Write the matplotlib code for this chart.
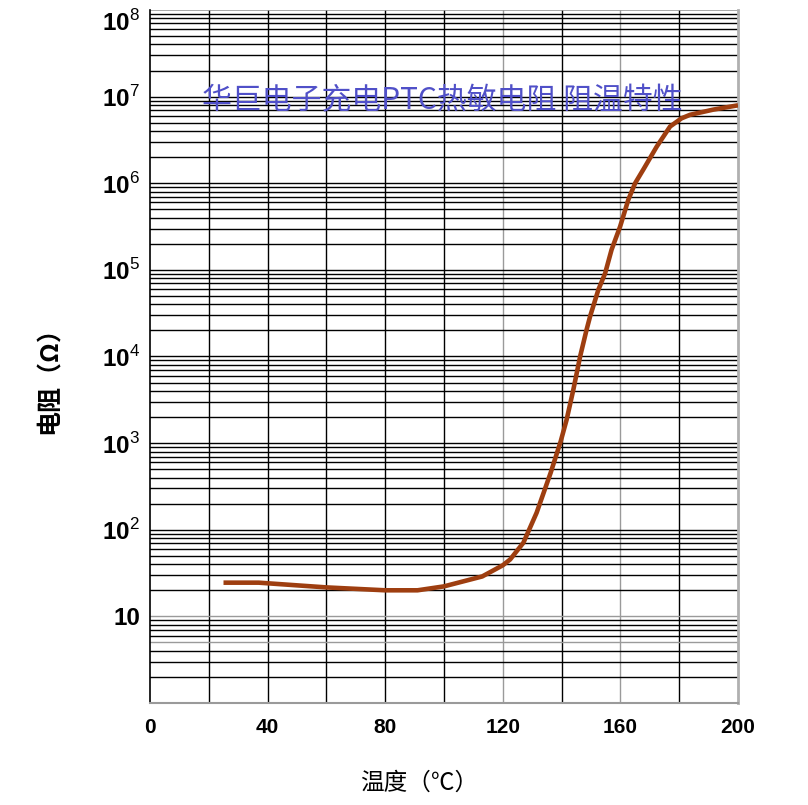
import matplotlib
matplotlib.use("Agg")
import matplotlib.pyplot as plt
from matplotlib.ticker import FixedLocator, FixedFormatter, NullFormatter

plt.rcParams['font.family'] = ['Liberation Sans', 'Noto Sans CJK SC', 'DejaVu Sans']
plt.rcParams['mathtext.fontset'] = 'custom'
plt.rcParams['mathtext.rm'] = 'Liberation Sans'
plt.rcParams['mathtext.bf'] = 'Liberation Sans:bold'

# Resistance-temperature curve of the PTC thermistor
temperature = [25, 37, 60, 80, 91, 100, 113, 120, 122.5, 127, 131.5, 136.3,
               139.7, 141.7, 144, 146.3, 148.5, 149.7, 152.5, 154.8, 157,
               159.9, 162.7, 165, 168, 172.3, 176.9, 180.8, 183.7, 191.6, 200]
resistance = [24.5, 24.5, 21.6, 20, 20, 22.2, 28.9, 38.9, 45.4, 70.8, 157, 457,
              1.05e3, 1.86e3, 4.15e3, 1.0e4, 2.04e4, 2.91e4, 5.89e4, 9.12e4,
              1.71e5, 3.16e5, 6.46e5, 1.0e6, 1.48e6, 2.63e6, 4.52e6, 5.62e6,
              6.17e6, 7.08e6, 7.94e6]

x_ticks = [0, 40, 80, 120, 160, 200]
y_ticks = [10, 1e2, 1e3, 1e4, 1e5, 1e6, 1e7, 1e8]
y_tick_labels = ['10', r'$\mathbf{10}^{2}$', r'$\mathbf{10}^{3}$', r'$\mathbf{10}^{4}$',
                 r'$\mathbf{10}^{5}$', r'$\mathbf{10}^{6}$', r'$\mathbf{10}^{7}$',
                 r'$\mathbf{10}^{8}$']

title = '华巨电子充电PTC热敏电阻 阻温特性'
x_label = '温度（℃）'
y_label = '电阻（Ω）'

fig = plt.figure(figsize=(8.08, 8.05), dpi=100)
ax = fig.add_axes([150 / 808, 1 - 703 / 805, 588 / 808, 693 / 805])
ax.set_xlim(0, 200)
ax.set_yscale('log')
ax.set_ylim(1, 1e8)

# grid: vertical every 20 °C, horizontal at each 1..9 × decade
for xv in range(20, 200, 20):
    col = '#9a9a9a' if xv in (120, 160) else 'black'
    ax.axvline(xv, color=col, lw=1.0, zorder=1)
for dec in range(0, 8):
    for m in range(1, 10):
        yv = m * 10 ** dec
        if yv <= 1:
            continue
        col = '#9a9a9a' if (m == 1 and dec == 1) or (m == 5 and dec == 0) else 'black'
        ax.axhline(yv, color=col, lw=1.0, zorder=1)
ax.axhline(1e8, color='#9a9a9a', lw=1.2, zorder=1)

ax.plot(temperature, resistance, color='#9E3E10', lw=3.3, zorder=3,
        solid_joinstyle='round', solid_capstyle='butt')

ax.xaxis.set_major_locator(FixedLocator(x_ticks))
ax.set_xticklabels([str(v) for v in x_ticks], fontsize=15, fontweight='bold')
ax.yaxis.set_major_locator(FixedLocator(y_ticks))
ax.yaxis.set_major_formatter(FixedFormatter(y_tick_labels))
ax.yaxis.set_minor_formatter(NullFormatter())
ax.tick_params(axis='both', which='both', length=0)
ax.tick_params(axis='x', pad=11)
ax.tick_params(axis='y', pad=7, labelsize=17.5)
for lbl in ax.get_yticklabels():
    lbl.set_fontweight('bold')
# keep the top label inside the figure
ax.get_yticklabels()[-1].set_verticalalignment('top')

ax.spines['top'].set_visible(False)
ax.spines['left'].set_color('black')
ax.spines['left'].set_linewidth(1.2)
ax.spines['bottom'].set_color('#9a9a9a')
ax.spines['bottom'].set_linewidth(1.5)
ax.spines['right'].set_color('#b0b0b0')
ax.spines['right'].set_linewidth(2)

fig.text(202 / 808, 1 - 101 / 805, title, fontsize=21.5, color='#5050C8',
         family=['Noto Sans CJK SC', 'DejaVu Sans'], va='center', ha='left')
fig.text(419 / 808, 1 - 783 / 805, x_label, fontsize=17,
         family=['Noto Sans CJK SC', 'DejaVu Sans'], va='center', ha='center')
fig.text(50 / 808, 1 - 374 / 805, y_label, fontsize=18, rotation=90,
         fontweight='bold',
         family=['Noto Sans CJK SC', 'DejaVu Sans'], va='center', ha='center')

fig.savefig('out.png', dpi=100, facecolor='white')
